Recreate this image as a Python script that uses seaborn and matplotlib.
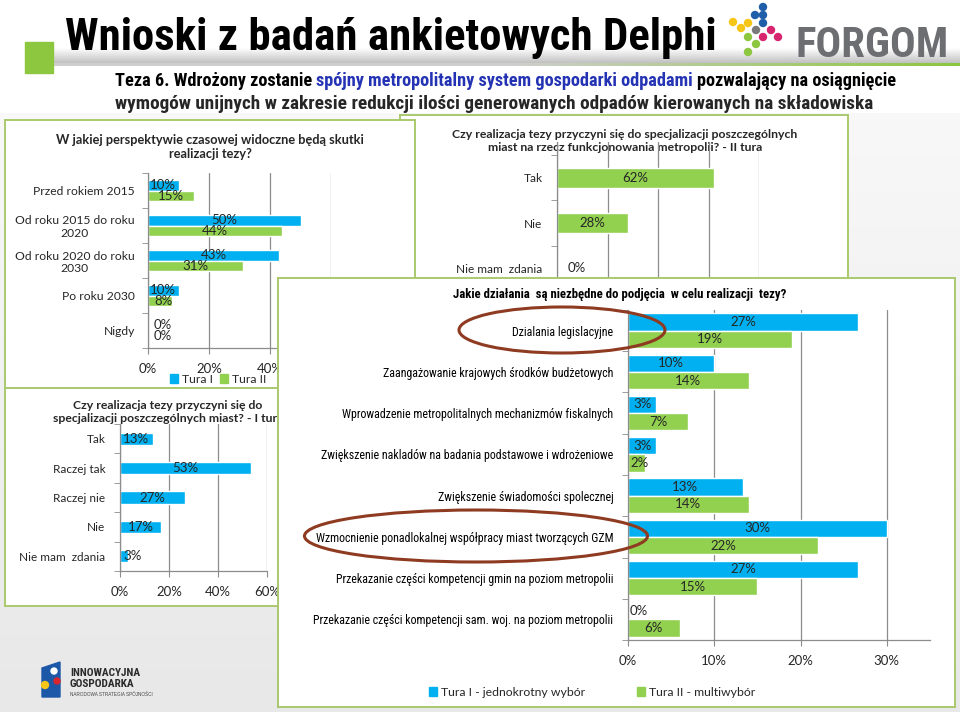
import matplotlib
matplotlib.use("Agg")
import matplotlib.pyplot as plt
import numpy as np
import pandas as pd
import seaborn as sns
from matplotlib import font_manager
from matplotlib.colors import LinearSegmentedColormap
from matplotlib.patches import Ellipse, Rectangle, Polygon
from matplotlib.ticker import FixedLocator, PercentFormatter

W, H = 960, 712

# --- dane: perspektywa czasowa (tura I / tura II)
okresy = ["Przed rokiem 2015", "Od roku 2015 do roku\n2020", "Od roku 2020 do roku\n2030",
          "Po roku 2030", "Nigdy"]
okresy_t1 = [10, 50, 43, 10, 0]
okresy_t2 = [15, 44, 31, 8, 0]

# --- dane: specjalizacja miast, II tura
spec2_kat = ["Tak", "Nie", "Nie mam  zdania"]
spec2_t2 = [62, 28, 0]

# --- dane: specjalizacja miast, I tura
spec1_kat = ["Tak", "Raczej tak", "Raczej nie", "Nie", "Nie mam  zdania"]
spec1_t1 = [13.3, 53.3, 26.7, 16.7, 3.3]

# --- dane: niezbedne dzialania
dzialania = [
    "Dzialania legislacyjne",
    "Zaangażowanie krajowych środków budżetowych",
    "Wprowadzenie metropolitalnych mechanizmów fiskalnych",
    "Zwiększenie nakladów na badania podstawowe i wdrożeniowe",
    "Zwiększenie świadomości spolecznej",
    "Wzmocnienie ponadlokalnej współpracy miast tworzących GZM",
    "Przekazanie części kompetencji gmin na poziom metropolii",
    "Przekazanie części kompetencji sam. woj. na poziom metropolii",
]
dzialania_t1 = [26.7, 10.0, 3.3, 3.3, 13.3, 30.0, 26.7, 0.0]
dzialania_t2 = [19, 14, 7, 2, 14, 22, 15, 6]

tury_krotkie = ["Tura I", "Tura II"]
tury_dlugie = ["Tura I - jednokrotny wybór", "Tura II - multiwybór"]

NIEBIESKI = "#00B0F0"
ZIELONY = "#92D050"
RAMKA = "#A9C96E"
OS = "#8C8C8C"
TXT = "#262626"

sns.set_style("white")
plt.rcParams["font.family"] = ["Lato", "DejaVu Sans"]

nazwy = {f.name for f in font_manager.fontManager.ttflist}
kandydaci = ["Liberation Sans Narrow", "Roboto Condensed", "DejaVu Sans Condensed",
             "Open Sans Condensed", "Noto Sans Condensed"]
WASKI = next((k for k in kandydaci if k in nazwy), "Liberation Sans")

fig = plt.figure(figsize=(W / 100, H / 100), dpi=100)
renderer = fig.canvas.get_renderer()


def osie(x0, y0, x1, y1, z):
    return fig.add_axes([x0 / W, 1 - y1 / H, (x1 - x0) / W, (y1 - y0) / H], zorder=z)


def fx(x):
    return x / W


def fy(y):
    return 1 - y / H


def rozmiar(tekst, szer, **kw):
    # rozmiar czcionki, przy ktorym tekst ma zadana szerokosc w pikselach
    t = fig.text(0, 0, tekst, fontsize=10, **kw)
    w = t.get_window_extent(renderer).width
    t.remove()
    return 10 * szer / w


def ramka(x0, y0, x1, y1, z):
    ax = osie(x0, y0, x1, y1, z)
    ax.set_xticks([])
    ax.set_yticks([])
    ax.set_facecolor("white")
    for s in ax.spines.values():
        s.set_color(RAMKA)
        s.set_linewidth(1.4)
    return ax


FS_NUM = rozmiar("50%", 26)


def styl(ax, n, xmax, xticks, pad_y, fs_y, rodz_y, top_extra=0.0):
    ax.set_xlim(0, xmax)
    ax.set_ylim(n - 0.5, -0.5 - top_extra)
    ax.set_xticks(xticks)
    ax.xaxis.set_major_formatter(PercentFormatter(decimals=0))
    ax.yaxis.set_minor_locator(FixedLocator(np.arange(-0.5, n, 1)))
    ax.tick_params(axis="y", which="major", left=False, pad=pad_y, labelsize=fs_y,
                   labelcolor=TXT)
    ax.tick_params(axis="y", which="minor", left=True, length=4, color=OS, direction="out")
    ax.tick_params(axis="x", bottom=True, length=4, color=OS, direction="out", pad=7,
                   labelsize=FS_NUM, labelcolor=TXT)
    for t in ax.get_yticklabels():
        t.set_family(rodz_y)
        t.set_multialignment("center")
    ax.grid(axis="x", color=OS, lw=0.9)
    ax.grid(axis="y", visible=False)
    ax.set_axisbelow(True)
    for s in ("top", "right"):
        ax.spines[s].set_visible(False)
    for s in ("left", "bottom"):
        ax.spines[s].set_color(OS)
        ax.spines[s].set_linewidth(0.9)
    ax.set_facecolor("none")
    ax.set_xlabel("")
    ax.set_ylabel("")


def etykiety(ax, minx):
    for cont in ax.containers:
        for bar in cont:
            v = bar.get_width()
            y = bar.get_y() + bar.get_height() / 2
            ax.text(max(v / 2, minx), y, f"{v:.0f}%", ha="center", va="center",
                    fontsize=FS_NUM, color=TXT)


def tytul(ax, x, y, linie, szer1):
    fs = rozmiar(linie[0], szer1, fontweight="bold")
    ax.text(fx(x), fy(y), "\n".join(linie), transform=fig.transFigure, ha="center",
            va="center", fontsize=fs, fontweight="bold", color=TXT, linespacing=1.3)


# ---------------- tlo slajdu ----------------
tlo = osie(0, 113, W, H, -10)
tlo.imshow(np.linspace(0, 1, 100).reshape(-1, 1), aspect="auto", extent=(0, 1, 0, 1),
           cmap=LinearSegmentedColormap.from_list("tlo", ["#f8f8f8", "#e8e8e8"]))
tlo.axis("off")

pasek = osie(53, 48, W, 64, -5)
pasek.imshow(np.linspace(0, 1, 50).reshape(-1, 1), aspect="auto", extent=(0, 1, 0, 1),
             cmap=LinearSegmentedColormap.from_list("pas", ["#ffffff", "#bdbdbd"]))
pasek.axis("off")
linia = osie(53, 63, W, 66, -4)
linia.imshow(np.linspace(0, 1, 200).reshape(1, -1), aspect="auto", extent=(0, 1, 0, 1),
             cmap=LinearSegmentedColormap.from_list("lin", ["#cfcfcf", "#cfcfcf", "#8cc63f"]))
linia.axis("off")
fig.add_artist(Rectangle((fx(25), fy(73)), fx(28), 31 / H, color="#8DC63F", zorder=-3))

napis = "Wnioski z badań ankietowych Delphi"
fig.text(fx(65), fy(50), napis, fontweight="bold", family=WASKI, va="baseline",
         color="black", fontsize=rozmiar(napis, 653, fontweight="bold", family=WASKI))
fig.text(fx(795), fy(57), "FORGOM", fontweight="bold", family=WASKI, va="baseline",
         color="#6D6E71", fontsize=rozmiar("FORGOM", 152, fontweight="bold", family=WASKI))

kropki = [(763, 7, "#1F5EA8"), (755, 15, "#1F5EA8"), (763, 15, "#1F5EA8"),
          (733, 22, "#F5C518"), (748, 23, "#F5C518"), (763, 23, "#1F5EA8"),
          (741, 28, "#F5C518"), (756, 30, "#7A7A7A"), (771, 30, "#D6246E"),
          (748, 37, "#8DC63F"), (763, 37, "#D6246E"), (778, 37, "#D6246E"),
          (756, 44, "#8DC63F"), (748, 52, "#8DC63F")]
for kx, ky, kc in kropki:
    fig.add_artist(Ellipse((fx(kx), fy(ky)), 7 / W, 7 / H, color=kc))

# podtytul: druga linia, potem pierwsza z kolorowym fragmentem
linia2 = ("wymogów unijnych w zakresie redukcji ilości generowanych odpadów kierowanych "
          "na składowiska")
kw_sub = dict(fontweight="bold", family=WASKI, va="baseline")
fs2 = rozmiar(linia2, 758, fontweight="bold", family=WASKI)
fig.text(fx(115), fy(109), linia2, fontsize=fs2, **kw_sub)
segmenty = [("Teza 6. Wdrożony zostanie ", "black"),
            ("spójny metropolitalny system gospodarki odpadami ", "#2433B4"),
            ("pozwalający na osiągnięcie", "black")]
fs1 = rozmiar("".join(s for s, _ in segmenty), 785, fontweight="bold", family=WASKI)
fs1 = min(fs1, fs2 * 1.05)
x = 115
for seg, kol in segmenty:
    tt = fig.text(fx(x), fy(86), seg, fontsize=fs1, color=kol, **kw_sub)
    x += tt.get_window_extent(renderer).width

# ---------------- wykres B: specjalizacja, II tura ----------------
box_b = ramka(400, 115, 848, 300, 1)
tytul(box_b, 625, 141, ["Czy realizacja tezy przyczyni się do specjalizacji poszczególnych",
                        "miast na rzecz funkcjonowania metropolii? - II tura"], 345)
ax_b = osie(557, 142, 759, 291, 2)
sns.barplot(x=spec2_t2, y=spec2_kat, color=ZIELONY, saturation=1, width=0.44,
            orient="h", ax=ax_b)
styl(ax_b, 3, 80, [0, 20, 40, 60, 80], 7, rozmiar("Nie mam  zdania", 86), "Lato",
     top_extra=0.29)
etykiety(ax_b, 8)

# ---------------- wykres A: perspektywa czasowa ----------------
box_a = ramka(5, 120, 415, 388, 3)
tytul(box_a, 210, 147, ["W jakiej perspektywie czasowej widoczne będą skutki",
                        "realizacji tezy?"], 308)
ax_a = osie(148, 173, 331, 348, 4)
df_a = pd.DataFrame({
    "kat": okresy * 2,
    "tura": [tury_krotkie[0]] * len(okresy) + [tury_krotkie[1]] * len(okresy),
    "val": okresy_t1 + okresy_t2,
})
sns.barplot(data=df_a, x="val", y="kat", hue="tura", palette=[NIEBIESKI, ZIELONY],
            saturation=1, width=0.6, orient="h", legend=False, ax=ax_a)
styl(ax_a, 5, 60, [0, 20, 40, 60], 6, rozmiar("Przed rokiem 2015", 102), "Lato")
etykiety(ax_a, 5)
uchwyty = [Rectangle((0, 0), 1, 1, color=c) for c in (NIEBIESKI, ZIELONY)]
ax_a.legend(uchwyty, tury_krotkie, loc="center", bbox_to_anchor=(fx(218), fy(379)),
            bbox_transform=fig.transFigure, ncol=2, frameon=False,
            fontsize=rozmiar("Tura II", 34), handlelength=0.7, handleheight=0.7,
            handletextpad=0.3, columnspacing=0.6, labelcolor=TXT)

# ---------------- wykres D: specjalizacja, I tura ----------------
box_d = ramka(5, 388, 283, 606, 5)
tytul(box_d, 168, 412, ["Czy realizacja tezy przyczyni się do",
                        "specjalizacji poszczególnych miast? - I tura"], 190)
ax_d = osie(120, 424, 267, 571, 6)
sns.barplot(x=spec1_t1, y=spec1_kat, color=NIEBIESKI, saturation=1, width=0.41,
            orient="h", ax=ax_d)
styl(ax_d, 5, 60, [0, 20, 40, 60], 7, rozmiar("Nie mam  zdania", 85), "Lato")
etykiety(ax_d, 5.3)

# ---------------- wykres C: niezbedne dzialania ----------------
box_c = ramka(278, 278, 955, 707, 7)
tyt_c = "Jakie działania  są niezbędne do podjęcia  w celu realizacji  tezy?"
box_c.text(fx(620), fy(294), tyt_c, transform=fig.transFigure, ha="center", va="center",
           fontsize=rozmiar(tyt_c, 334, fontweight="bold", family=WASKI),
           fontweight="bold", family=WASKI, color="black")
ax_c = osie(628, 310, 930, 640, 8)
df_c = pd.DataFrame({
    "kat": dzialania * 2,
    "tura": [tury_dlugie[0]] * len(dzialania) + [tury_dlugie[1]] * len(dzialania),
    "val": dzialania_t1 + dzialania_t2,
})
sns.barplot(data=df_c, x="val", y="kat", hue="tura", palette=[NIEBIESKI, ZIELONY],
            saturation=1, width=0.84, orient="h", legend=False, ax=ax_c)
styl(ax_c, 8, 35, [0, 10, 20, 30], 7, rozmiar(dzialania[5], 297, family=WASKI), WASKI)
for t in ax_c.get_yticklabels():
    t.set_color("black")
etykiety(ax_c, 1.3)
ax_c.legend(uchwyty, tury_dlugie, loc="center", bbox_to_anchor=(fx(592), fy(692)),
            bbox_transform=fig.transFigure, ncol=2, frameon=False,
            fontsize=rozmiar(tury_dlugie[0], 145), handlelength=0.7, handleheight=0.7,
            handletextpad=0.3, columnspacing=4.2, labelcolor=TXT)

for cx, cy, ew, eh in [(562, 330, 206, 46), (476, 536, 343, 52)]:
    fig.add_artist(Ellipse((fx(cx), fy(cy)), ew / W, eh / H, fill=False,
                           edgecolor="#8E3B21", lw=2.2, zorder=20))

# ---------------- logo na dole ----------------
fig.add_artist(Polygon([(fx(42), fy(668)), (fx(60), fy(662)), (fx(60), fy(697)),
                        (fx(42), fy(697))], closed=True, color="#1D57A8", zorder=2))
fig.add_artist(Ellipse((fx(54), fy(671)), 6 / W, 6 / H, color="white", zorder=3))
fig.add_artist(Ellipse((fx(57), fy(681)), 6 / W, 6 / H, color="#D7262E", zorder=3))
fig.add_artist(Ellipse((fx(45), fy(685)), 7 / W, 7 / H, color="#F5C518", zorder=3))
kw_logo = dict(fontweight="bold", family=WASKI)
fs_logo = rozmiar("INNOWACYJNA", 70, **kw_logo)
fig.text(fx(70), fy(673), "INNOWACYJNA", color="#2a2a2a", va="center",
         fontsize=fs_logo, **kw_logo)
fig.text(fx(70), fy(684), "GOSPODARKA", color="#2a2a2a", va="center",
         fontsize=fs_logo, **kw_logo)
fig.text(fx(70), fy(694), "NARODOWA STRATEGIA SPÓJNOŚCI", fontsize=3.3, color="#444444",
         family="Liberation Sans", va="center")

fig.savefig("out.png", dpi=100)
